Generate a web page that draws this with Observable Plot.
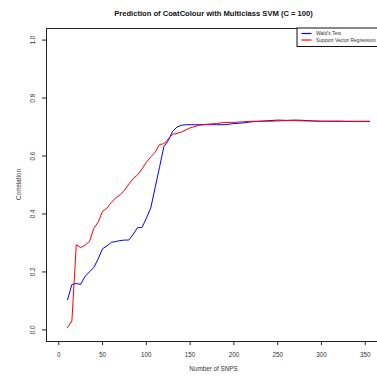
<!DOCTYPE html>
<html>
<head>
<meta charset="utf-8">
<script src="https://cdn.jsdelivr.net/npm/d3@7"></script>
<script src="https://cdn.jsdelivr.net/npm/@observablehq/plot@0.6"></script>
<style>
  html, body { margin: 0; padding: 0; background: #fff; }
  #chart svg { display: block; }
</style>
</head>
<body>
<div id="chart"></div>
<script>
const titleText = "Prediction of CoatColour with Multiclass SVM (C = 100)";
const xLabel = "Number of SNPS";
const yLabel = "Correlation";
const seriesNames = ["Wald's Test", "Support Vector Regression"];
const seriesColors = ["#0000ff", "#ff0000"];

const snps = [10,15,20,25,30,35,40,45,50,55,60,65,70,75,80,85,90,95,100,105,110,115,120,125,130,135,140,145,150,
  160,170,180,190,200,210,220,230,240,250,260,270,280,290,300,310,320,330,340,350,355];

const waldTest = [0.104,0.157,0.160,0.157,0.185,0.200,0.215,0.245,0.280,0.290,0.302,0.305,0.308,0.310,0.310,0.330,0.353,0.353,0.385,0.420,0.490,0.560,0.632,0.653,0.685,0.700,0.706,0.708,0.708,
  0.708,0.708,0.708,0.708,0.712,0.714,0.718,0.720,0.722,0.724,0.723,0.724,0.723,0.721,0.720,0.720,0.720,0.719,0.719,0.719,0.719];

const svr = [0.008,0.031,0.294,0.284,0.292,0.305,0.350,0.372,0.409,0.420,0.440,0.455,0.466,0.482,0.503,0.522,0.535,0.555,0.578,0.597,0.612,0.640,0.642,0.659,0.675,0.678,0.683,0.690,0.697,
  0.706,0.710,0.712,0.716,0.716,0.718,0.720,0.720,0.720,0.721,0.722,0.722,0.721,0.721,0.720,0.720,0.720,0.720,0.720,0.720,0.720];

const xTicks = [0,50,100,150,200,250,300,350];
const yTicks = [0,0.2,0.4,0.6,0.8,1.0];
const xDomain = [-14, 364];
const yDomain = [-0.04, 1.04];

const waldData = snps.map((s, i) => ({snps: s, value: waldTest[i]}));
const svrData = snps.map((s, i) => ({snps: s, value: svr[i]}));

const W = 377, H = 377;
const mL = 46, mR = 0, mT = 28, mB = 36;

const chart = Plot.plot({
  width: W, height: H,
  marginLeft: mL, marginRight: mR, marginTop: mT, marginBottom: mB,
  style: {fontFamily: "'Liberation Sans', Arial, Helvetica, sans-serif", fontSize: "6.3px", background: "#fff", color: "#000"},
  x: {domain: xDomain},
  y: {domain: yDomain},
  marks: [
    Plot.axisX(xTicks, {tickSize: 4, tickPadding: 7, label: null, fill: "#333", stroke: "#222"}),
    Plot.axisY(yTicks, {tickSize: 4, tickPadding: 8, tickRotate: -90, tickFormat: d3.format(".1f"), label: null, fill: "#333", stroke: "#222"}),
    Plot.ruleY([yDomain[0]], {stroke: "#222", strokeWidth: 1}),
    Plot.ruleY([yDomain[1]], {stroke: "#222", strokeWidth: 1}),
    Plot.ruleX([xDomain[0]], {stroke: "#222", strokeWidth: 1}),
    Plot.line(waldData, {x: "snps", y: "value", stroke: seriesColors[0], strokeWidth: 1}),
    Plot.line(svrData, {x: "snps", y: "value", stroke: seriesColors[1], strokeWidth: 1})
  ]
});

document.getElementById("chart").appendChild(chart);

const svg = d3.select(chart);
const font = "'Liberation Sans', Arial, Helvetica, sans-serif";
const cx = (mL + (W - mR)) / 2;

svg.append("text")
  .attr("x", cx + 2).attr("y", 15.5)
  .attr("text-anchor", "middle")
  .attr("font-family", font).attr("font-size", 7.6).attr("font-weight", "bold")
  .attr("fill", "#111")
  .text(titleText);

svg.append("text")
  .attr("x", cx + 2).attr("y", 371)
  .attr("text-anchor", "middle")
  .attr("font-family", font).attr("font-size", 6.3)
  .attr("fill", "#333")
  .text(xLabel);

svg.append("text")
  .attr("transform", `translate(21,${(mT + H - mB) / 2}) rotate(-90)`)
  .attr("text-anchor", "middle")
  .attr("font-family", font).attr("font-size", 6.3)
  .attr("fill", "#333")
  .text(yLabel);

// legend
const lg = svg.append("g");
lg.append("rect")
  .attr("x", 297).attr("y", 28).attr("width", 100).attr("height", 18.5)
  .attr("fill", "#fff").attr("stroke", "#111").attr("stroke-width", 1);
seriesNames.forEach((name, i) => {
  const yy = 33.5 + i * 6.5;
  lg.append("line")
    .attr("x1", 301.5).attr("x2", 311.5).attr("y1", yy).attr("y2", yy)
    .attr("stroke", seriesColors[i]).attr("stroke-width", 1.2);
  lg.append("text")
    .attr("x", 316).attr("y", yy + 1.7)
    .attr("text-anchor", "start")
    .attr("font-family", font).attr("font-size", 5)
    .attr("fill", "#333")
    .text(name);
});
</script>
</body>
</html>
